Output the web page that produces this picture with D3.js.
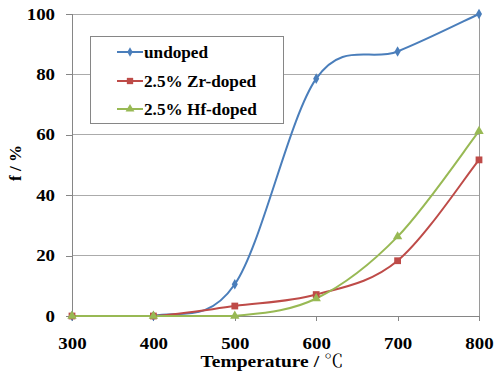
<!DOCTYPE html>
<html>
<head>
<meta charset="utf-8">
<script src="https://cdn.jsdelivr.net/npm/d3@7"></script>
<style>
  html, body { margin: 0; padding: 0; background: #fff; }
  svg { display: block; }
</style>
</head>
<body>
<svg id="chart" width="495" height="376"></svg>
<script>
// Conversion f (%) versus temperature for the three samples
const temperatures = [300, 400, 500, 600, 700, 800];
const undoped = [0, 0, 10.5, 78.6, 87.6, 100];
const zrDoped = [0, 0, 3.3, 7.1, 18.3, 51.7];
const hfDoped = [0, 0, 0, 5.8, 26.3, 61.2];
const yTicks = [0, 20, 40, 60, 80, 100];
const seriesNames = ["undoped", "2.5% Zr-doped", "2.5% Hf-doped"];
const seriesColors = ["#4A7EBB", "#BE4B48", "#98B954"];
const seriesSymbols = [d3.symbolDiamond, d3.symbolSquare, d3.symbolTriangle];

const SERIF = '"Liberation Serif"';

const series = [undoped, zrDoped, hfDoped].map((vals, i) => ({
  name: seriesNames[i],
  color: seriesColors[i],
  symbol: seriesSymbols[i],
  points: temperatures.map((t, j) => ({ t, v: vals[j] }))
}));

const svg = d3.select("#chart");
const x = d3.scaleLinear().domain([300, 800]).range([72, 479]);
const y = d3.scaleLinear().domain([0, 100]).range([316, 14]);

function serifText(sel, size) {
  return sel
    .style("font-family", SERIF)
    .style("font-weight", "bold")
    .style("font-size", size + "px")
    .attr("fill", "#000");
}

// Catmull-Rom style smoothing (control points at 1/6 of the neighbour span);
// segments between two equal values are kept flat.
function smoothPath(points) {
  const p = points.map(d => [x(d.t), y(d.v)]);
  const path = d3.path();
  path.moveTo(p[0][0], p[0][1]);
  for (let i = 0; i < p.length - 1; i++) {
    const p0 = p[Math.max(i - 1, 0)], p1 = p[i], p2 = p[i + 1], p3 = p[Math.min(i + 2, p.length - 1)];
    if (points[i].v === points[i + 1].v) {
      path.lineTo(p2[0], p2[1]);
      continue;
    }
    const c1 = [p1[0] + (p2[0] - p0[0]) / 6, p1[1] + (p2[1] - p0[1]) / 6];
    const c2 = [p2[0] - (p3[0] - p1[0]) / 6, p2[1] - (p3[1] - p1[1]) / 6];
    path.bezierCurveTo(c1[0], c1[1], c2[0], c2[1], p2[0], p2[1]);
  }
  return path.toString();
}

// gridlines
svg.append("g")
  .selectAll("line")
  .data(yTicks.filter(d => d > 0))
  .join("line")
  .attr("x1", x(300)).attr("x2", x(800))
  .attr("y1", d => y(d)).attr("y2", d => y(d))
  .attr("stroke", "#ababab").attr("stroke-width", 1)
  .attr("shape-rendering", "crispEdges");

// right border of the plot area
svg.append("line")
  .attr("x1", x(800)).attr("x2", x(800))
  .attr("y1", y(100)).attr("y2", y(0))
  .attr("stroke", "#9a9a9a").attr("shape-rendering", "crispEdges");

// axes
const yAxis = svg.append("g")
  .attr("transform", `translate(${x(300)},0)`)
  .call(d3.axisLeft(y).tickValues(yTicks).tickSize(6).tickPadding(11));
const xAxis = svg.append("g")
  .attr("transform", `translate(0,${y(0)})`)
  .call(d3.axisBottom(x).tickValues(temperatures).tickSize(5).tickPadding(17).tickFormat(d3.format("d")));

[yAxis, xAxis].forEach(g => {
  g.attr("font-family", null).attr("font-size", null);
  g.selectAll("path.domain").attr("stroke", "#868686").attr("shape-rendering", "crispEdges");
  g.selectAll(".tick line").attr("stroke", "#868686").attr("shape-rendering", "crispEdges");
  serifText(g.selectAll("text"), 16).attr("data-stretch", 1.18);
});

// smoothed series lines
const plot = svg.append("g");
series.forEach(s => {
  plot.append("path")
    .attr("fill", "none")
    .attr("stroke", s.color)
    .attr("stroke-width", 2)
    .attr("d", smoothPath(s.points));
});
series.forEach(s => {
  const size = s.symbol === d3.symbolDiamond ? 32 : s.symbol === d3.symbolSquare ? 46 : 38;
  plot.append("g")
    .selectAll("path")
    .data(s.points)
    .join("path")
    .attr("transform", d => `translate(${x(d.t)},${y(d.v)})`)
    .attr("d", d3.symbol(s.symbol, size))
    .attr("fill", s.color);
});

// axis titles
const xTitle = serifText(svg.append("text"), 16.5)
  .attr("x", 272).attr("y", 367)
  .attr("text-anchor", "middle")
  .attr("data-stretch", 1.18);
xTitle.append("tspan").text("Temperature / ");
xTitle.append("tspan")
  .style("font-weight", "normal")
  .style("font-family", '"Noto Serif CJK SC"')
  .text("℃");

serifText(svg.append("text"), 17)
  .attr("transform", "translate(21,163) rotate(-90)")
  .attr("text-anchor", "middle")
  .text("f / %");

// legend
const legend = svg.append("g");
legend.append("rect")
  .attr("x", 90.5).attr("y", 36.5)
  .attr("width", 193).attr("height", 87)
  .attr("fill", "#fff")
  .attr("stroke", "#868686");
const rowY = [52, 81, 109];
series.forEach((s, i) => {
  const g = legend.append("g").attr("transform", `translate(0,${rowY[i]})`);
  g.append("line")
    .attr("x1", 117).attr("x2", 143)
    .attr("stroke", s.color).attr("stroke-width", 2);
  const size = s.symbol === d3.symbolDiamond ? 26 : s.symbol === d3.symbolSquare ? 40 : 34;
  g.append("path")
    .attr("transform", "translate(130,0)")
    .attr("d", d3.symbol(s.symbol, size))
    .attr("fill", s.color);
  serifText(g.append("text"), 16)
    .attr("x", 144).attr("y", 5.5)
    .attr("data-stretch", 1.075)
    .text(s.name);
});

// widen the serif labels horizontally
svg.selectAll("text[data-stretch]").each(function () {
  const k = +this.getAttribute("data-stretch");
  const w = this.getComputedTextLength();
  d3.select(this)
    .attr("textLength", w * k)
    .attr("lengthAdjust", "spacingAndGlyphs");
});
</script>
</body>
</html>
